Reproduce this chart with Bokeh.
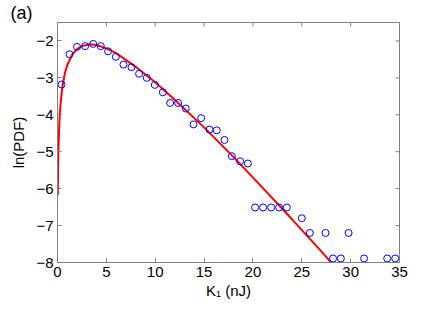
import math
from bokeh.plotting import figure
from bokeh.models import Range1d, FixedTicker, Title
from bokeh.embed import file_html
from bokeh.resources import INLINE

# Measured PDF points (K1 in nJ, ln(PDF))
k1_data = [0.41, 1.23, 2.0, 2.83, 3.65, 4.43, 5.18, 5.97, 6.75, 7.57, 8.35, 9.14,
           9.96, 10.78, 11.53, 12.34, 13.13, 13.92, 14.7, 15.56, 16.3, 17.09, 17.84,
           18.69, 19.48, 20.22, 21.04, 21.86, 22.68, 23.47, 25.0, 25.82, 27.43,
           29.79, 28.2, 29.0, 31.38, 33.74, 34.56]
lnpdf_data = [-3.18, -2.36, -2.16, -2.14, -2.08, -2.14, -2.28, -2.43, -2.64, -2.71,
              -2.89, -3.0, -3.19, -3.39, -3.68, -3.68, -3.83, -4.26, -4.09, -4.40,
              -4.42, -4.68, -5.12, -5.26, -5.32, -6.51, -6.51, -6.51, -6.51, -6.51,
              -6.80, -7.20, -7.20, -7.20, -7.89, -7.89, -7.89, -7.89, -7.89]

# Fitted curve
k1_fit = [0.03, 0.06, 0.1, 0.2, 0.3, 0.5, 0.75, 1.0, 1.5, 2.0, 2.5, 3.3, 4.0, 5.0,
          6.0, 8.0, 10.0, 12.0, 15.0, 18.0, 21.0, 24.0, 27.0, 28.0]
lnpdf_fit = [-6.18, -5.43, -4.88, -4.15, -3.74, -3.24, -2.88, -2.65, -2.37, -2.22,
             -2.14, -2.09, -2.11, -2.20, -2.33, -2.70, -3.12, -3.59, -4.34, -5.14,
             -5.98, -6.83, -7.70, -8.0]

x_ticks = [0, 5, 10, 15, 20, 25, 30, 35]
y_ticks = [-8, -7, -6, -5, -4, -3, -2]
y_tick_labels = {t: "\u2212" + str(abs(t)) for t in y_ticks}
x_lo, x_hi = 0, 35
y_lo, y_hi = -8, -1.5
panel_tag = "(a)"

FONT = "Liberation Sans"
GREY = "#808080"

p = figure(width=434, height=302, output_backend="svg", toolbar_location=None,
           x_range=Range1d(x_lo, x_hi), y_range=Range1d(y_lo, y_hi),
           min_border_left=57, min_border_right=35, min_border_top=20,
           min_border_bottom=40)
p.grid.visible = False
p.outline_line_color = GREY
p.background_fill_color = "white"
p.border_fill_color = "white"

p.line(k1_fit, lnpdf_fit, line_color="red", line_width=2)
p.scatter(k1_data, lnpdf_data, marker="circle", size=7, fill_color=None,
          line_color="blue", line_width=1)

# inward ticks on top and right edges of the box
p.ray(x=x_ticks, y=[y_hi] * len(x_ticks), length=4, length_units="screen",
      angle=-math.pi / 2, line_color=GREY, line_width=1)
p.ray(x=[x_hi] * len(y_ticks), y=y_ticks, length=4, length_units="screen",
      angle=math.pi, line_color=GREY, line_width=1)

for ax in [p.xaxis[0], p.yaxis[0]]:
    ax.axis_line_color = GREY
    ax.major_tick_line_color = GREY
    ax.major_tick_in = 4
    ax.major_tick_out = 0
    ax.minor_tick_line_color = None
    ax.major_label_text_font = FONT
    ax.major_label_text_font_size = "15px"
    ax.major_label_text_color = "black"
    ax.major_label_standoff = 4
    ax.axis_label_text_font = FONT
    ax.axis_label_text_font_size = "15px"
    ax.axis_label_text_font_style = "normal"
    ax.axis_label_text_color = "black"

p.xaxis[0].ticker = FixedTicker(ticks=x_ticks)
p.yaxis[0].ticker = FixedTicker(ticks=y_ticks)
p.yaxis[0].major_label_overrides = y_tick_labels
p.xaxis[0].axis_label = "K\u2081 (nJ)"
p.xaxis[0].axis_label_standoff = 2
p.yaxis[0].axis_label = "ln(PDF)"
p.yaxis[0].axis_label_standoff = 6

p.add_layout(Title(text=panel_tag, align="left", offset=-47, standoff=0,
                   vertical_align="bottom", text_font=FONT, text_font_size="18px",
                   text_font_style="normal", text_color="black"), "above")

open("out.html", "w").write(file_html(p, INLINE))
